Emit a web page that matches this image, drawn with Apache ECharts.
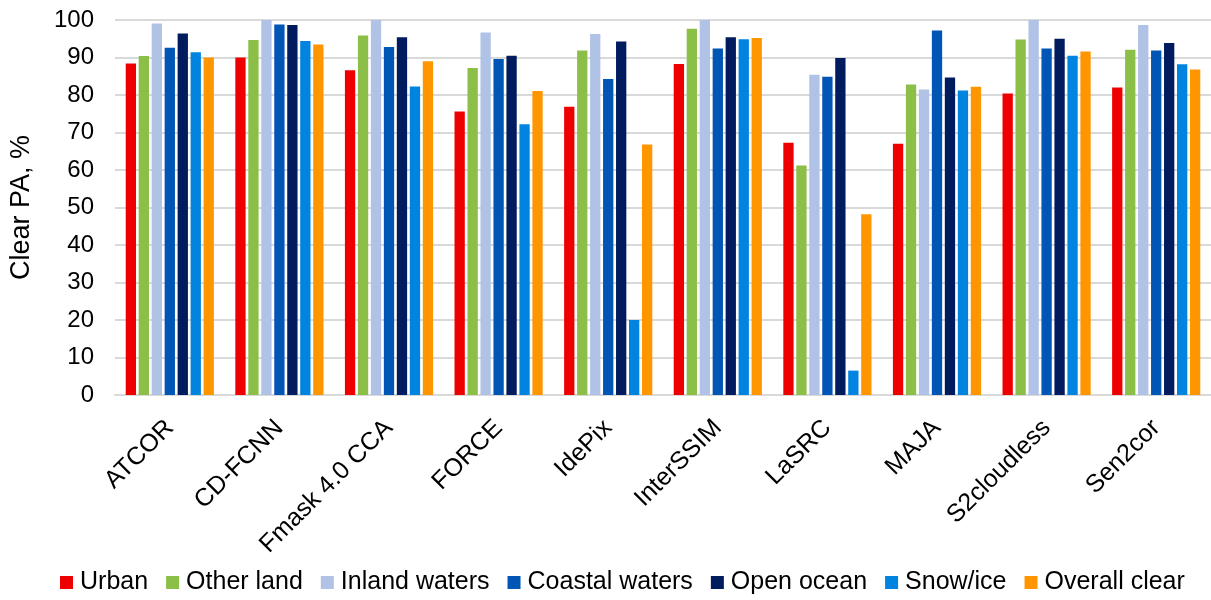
<!DOCTYPE html>
<html>
<head>
<meta charset="utf-8">
<script src="https://cdn.jsdelivr.net/npm/echarts@6/dist/echarts.min.js"></script>
<style>html,body{margin:0;padding:0;background:#fff}#c{width:1211px;height:600px}</style>
</head>
<body>
<div id="c"></div>
<script>
const categories = ['ATCOR','CD-FCNN','Fmask 4.0 CCA','FORCE','IdePix','InterSSIM','LaSRC','MAJA','S2cloudless','Sen2cor'];
const seriesNames = ['Urban','Other land','Inland waters','Coastal waters','Open ocean','Snow/ice','Overall clear'];
const urban        = [88.4, 90.0, 86.6, 75.6, 76.9, 88.3, 67.3, 67.0, 80.4, 82.0];
const otherLand    = [90.4, 94.7, 95.9, 87.2, 91.9, 97.7, 61.2, 82.8, 94.8, 92.1];
const inlandWaters = [99.1, 100, 100, 96.7, 96.3, 100, 85.4, 81.5, 100, 98.7];
const coastalWaters= [92.6, 98.8, 92.8, 89.6, 84.3, 92.4, 84.9, 97.2, 92.4, 91.9];
const openOcean    = [96.4, 98.7, 95.4, 90.5, 94.3, 95.4, 89.9, 84.7, 95.0, 93.9];
const snowIce      = [91.4, 94.4, 82.3, 72.2, 20.0, 94.9, 6.5, 81.2, 90.5, 88.2];
const overallClear = [90.0, 93.5, 89.0, 81.1, 66.8, 95.2, 48.2, 82.2, 91.6, 86.8];
const yTicks = [0,10,20,30,40,50,60,70,80,90,100];

const colors = ['#EE0000','#8BBF47','#B0C2E6','#0055B5','#001C5E','#0084E0','#FF9600'];
const allData = [urban, otherLand, inlandWaters, coastalWaters, openOcean, snowIce, overallClear];
const font = '"Liberation Sans", Arial, sans-serif';

const chart = echarts.init(document.getElementById('c'), null, {renderer:'canvas'});
chart.setOption({
  animation:false,
  color: colors,
  textStyle:{fontFamily:font},
  grid:{left:113, right:-6, top:20, bottom:205, containLabel:false},
  legend:{
    top:565, left:55,
    itemWidth:13, itemHeight:13, itemGap:18,
    icon:'rect',
    textStyle:{fontSize:25, color:'#000', fontFamily:font, padding:[0,0,0,2]},
    data: seriesNames
  },
  xAxis:{
    type:'category', data:categories,
    axisLine:{lineStyle:{color:'#d9d9d9', width:2}},
    axisTick:{show:false},
    axisLabel:{rotate:45, fontSize:25, color:'#000', fontFamily:font, margin:29, interval:0}
  },
  yAxis:{
    type:'value', min:0, max:100, interval:10,
    name:'Clear PA, %', nameLocation:'middle', nameGap:80, nameRotate:90,
    nameTextStyle:{fontSize:27, color:'#000', fontFamily:font},
    axisLine:{show:false}, axisTick:{show:false},
    axisLabel:{fontSize:24, color:'#000', fontFamily:font, margin:21,
      formatter: v => yTicks.includes(v) ? String(v) : ''},
    splitLine:{lineStyle:{color:'#d9d9d9', width:2}}
  },
  series: seriesNames.map((n,i)=>({
    name:n, type:'bar', data:allData[i],
    barWidth:10.3, barGap:'26%',
    itemStyle:{color:colors[i]}
  }))
});
</script>
</body>
</html>
